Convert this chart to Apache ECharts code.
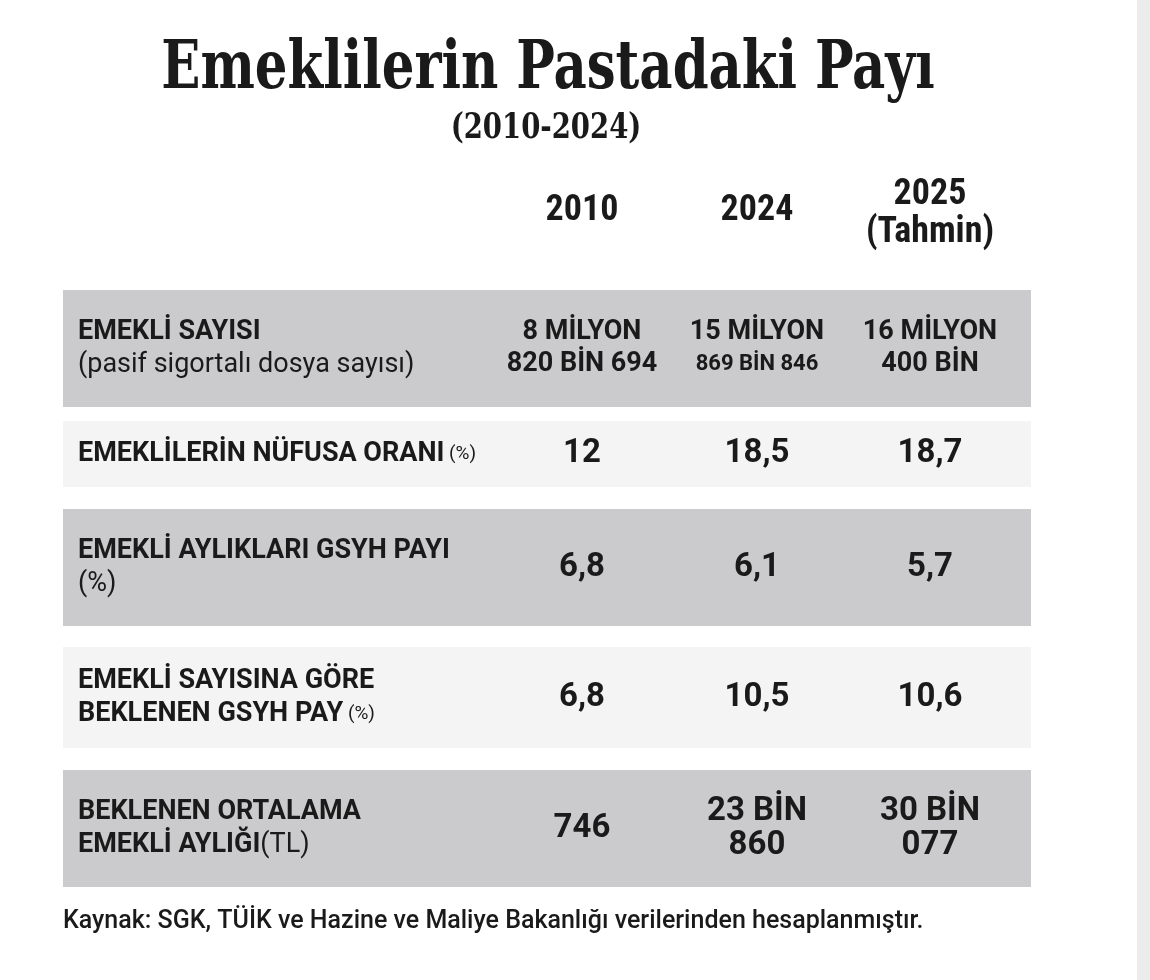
<!DOCTYPE html>
<html><head><meta charset="utf-8">
<script src="https://cdn.jsdelivr.net/npm/echarts@6/dist/echarts.min.js"></script>
<style>html,body{margin:0;background:#fff}#c{width:1150px;height:980px}</style>
</head><body><div id="c"></div>
<script>
// columns
var years = ['2010', '2024', '2025'];
var yearNotes = ['', '', '(Tahmin)'];
// row labels: [bold part, regular part, regular part on its own line?]
var rowLabels = [
  ['EMEKLİ SAYISI', '(pasif sigortalı dosya sayısı)', true],
  ['EMEKLİLERİN NÜFUSA ORANI', ' (%)', false],
  ['EMEKLİ AYLIKLARI GSYH PAYI', '(%)', true],
  ['EMEKLİ SAYISINA GÖRE\nBEKLENEN GSYH PAY', ' (%)', false],
  ['BEKLENEN ORTALAMA\nEMEKLİ AYLIĞI', '(TL)', false]
];
var values2010 = ['8 MİLYON\n820 BİN 694', '12', '6,8', '6,8', '746'];
var values2024 = ['15 MİLYON\n869 BİN 846', '18,5', '6,1', '10,5', '23 BİN\n860'];
var values2025 = ['16 MİLYON\n400 BİN', '18,7', '5,7', '10,6', '30 BİN\n077'];
var source = 'Kaynak: SGK, TÜİK ve Hazine ve Maliye Bakanlığı verilerinden hesaplanmıştır.';

// layout (axis units = px inside grid)
var rowTop = [0, 131, 219, 357, 480];
var rowH = [117, 66, 117, 101, 117];
var rowFill = ['#cbcbcd', '#f4f4f5', '#cbcbcd', '#f4f4f5', '#cbcbcd'];
var colX = [519, 694, 867];
var W = 968;
var sans = 'Roboto,"DejaVu Sans",sans-serif';
var cond = '"Roboto Condensed","DejaVu Sans Condensed",sans-serif';

var cols = [values2010, values2024, values2025];
var chart = echarts.init(document.getElementById('c'));
chart.setOption({
  animation: false,
  grid: { left: 63, right: 119, top: 290, bottom: 93 },
  xAxis: { type: 'value', min: 0, max: W, show: false },
  yAxis: { type: 'value', min: 0, max: 597, inverse: true, show: false },
  graphic: [
    { type: 'rect', shape: { x: 1137, y: 0, width: 13, height: 980 }, style: { fill: '#ececec' } },
    { type: 'text', x: 548, y: 70, style: { text: 'Emeklilerin Pastadaki Payı', font: '900 68px "DejaVu Serif Condensed","DejaVu Serif",serif', fill: '#1a1a1a', align: 'center', verticalAlign: 'middle' }, scaleX: 0.84 },
    { type: 'text', x: 546, y: 129, style: { text: '(2010-2024)', font: 'bold 36px "DejaVu Serif Condensed",serif', fill: '#1a1a1a', align: 'center', verticalAlign: 'middle' }, scaleX: 0.85 }
  ].concat(years.map(function (y, i) {
    return { type: 'text', x: 63 + colX[i], y: yearNotes[i] ? 214 : 211,
      style: { text: y + (yearNotes[i] ? '\n' + yearNotes[i] : ''), font: 'bold 36px ' + cond, lineHeight: yearNotes[i] ? 38 : 36, fill: '#1a1a1a', align: 'center', verticalAlign: 'middle' } };
  })).concat([
    { type: 'text', x: 63, y: 922, style: { text: source, font: '500 25px ' + sans, fill: '#1a1a1a', verticalAlign: 'middle' } }
  ]),
  series: [{
    type: 'custom',
    data: rowLabels.map(function (r, i) { return [i]; }),
    renderItem: function (params, api) {
      var i = api.value(0);
      var p0 = api.coord([0, rowTop[i]]);
      var p1 = api.coord([W, rowTop[i] + rowH[i]]);
      var cy = (p0[1] + p1[1]) / 2;
      var lab = rowLabels[i];
      var labText = '{b|' + lab[0].split('\n').join('}\n{b|') + '}' + (lab[2] ? '\n' : '') + '{r|' + lab[1] + '}';
      if (i === 1 || i === 3) labText = labText.replace('{r|', '{s|');
      var kids = [
        { type: 'rect', shape: { x: p0[0], y: p0[1], width: p1[0] - p0[0], height: p1[1] - p0[1] }, style: { fill: rowFill[i] } },
        { type: 'text', x: p0[0] + 15, y: cy, style: { text: labText, verticalAlign: 'middle', fill: '#1a1a1a',
          rich: { b: { font: 'bold 27px ' + sans, lineHeight: 33 }, r: { font: '27px ' + sans, lineHeight: 33 }, s: { font: '19px ' + sans, lineHeight: 33 } } } }
      ];
      cols.forEach(function (c, k) {
        var big = i > 0;
        var txt = c[i];
        var font = big ? 'bold 33px ' + sans : 'bold 27px ' + sans;
        if (i === 0 && k === 1) txt = '{a|15 MİLYON}\n{c|869 BİN 846}';
        kids.push({ type: 'text', x: api.coord([colX[k], 0])[0], y: cy,
          style: { text: txt, font: font, lineHeight: big ? 34 : 32, fill: '#1a1a1a', align: 'center', verticalAlign: 'middle',
            rich: { a: { font: 'bold 27px ' + sans, lineHeight: 32 }, c: { font: 'bold 22px ' + sans, lineHeight: 32 } } } });
      });
      return { type: 'group', children: kids };
    }
  }]
});
</script></body></html>
